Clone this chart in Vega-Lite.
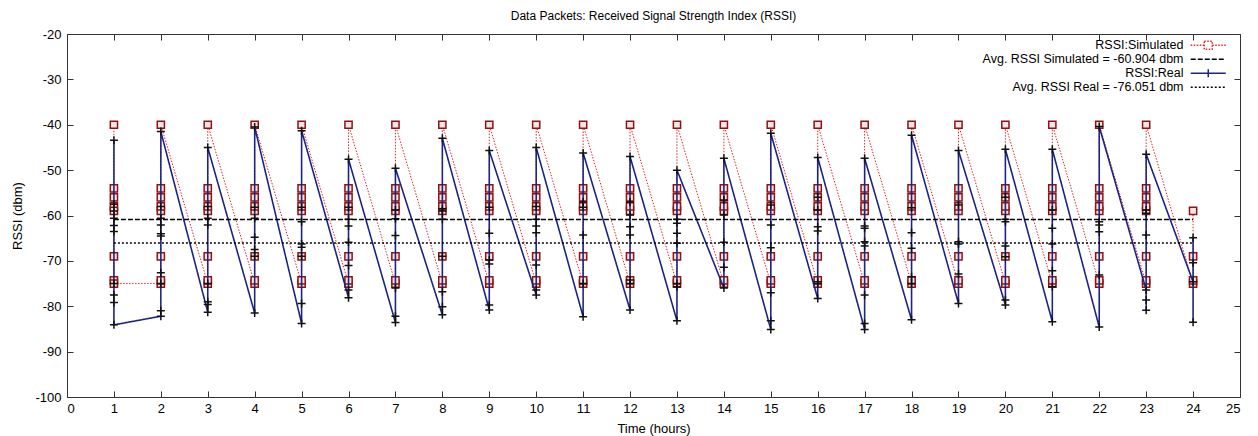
{
  "$schema": "https://vega.github.io/schema/vega-lite/v6.json",
  "width": 1173,
  "height": 363,
  "autosize": {"type": "none"},
  "padding": {"left": 67, "top": 34, "right": 18, "bottom": 39},
  "title": {
    "text": "Data Packets: Received Signal Strength Index (RSSI)",
    "fontSize": 12,
    "fontWeight": "normal",
    "font": "Liberation Sans",
    "color": "#000000",
    "offset": 5
  },
  "config": {
    "font": "Liberation Sans",
    "view": {"stroke": "#333333", "strokeWidth": 1},
    "axis": {
      "grid": false,
      "domain": false,
      "tickColor": "#333333",
      "tickWidth": 1,
      "labelColor": "#000000",
      "labelFontSize": 13,
      "titleFontSize": 13,
      "titleFontWeight": "normal",
      "titleColor": "#000000"
    },
    "legend": {
      "padding": 0,
      "labelFontSize": 12.5,
      "labelColor": "#000000",
      "labelAlign": "right",
      "labelOffset": -31,
      "labelLimit": 400,
      "symbolType": "stroke",
      "symbolSize": 100,
      "symbolStrokeWidth": 1.5,
      "rowPadding": 0
    }
  },
  "datasets": {
    "sim": [
      {"hour": 1, "seq": 1, "rssi": -40}, {"hour": 1, "seq": 2, "rssi": -54}, {"hour": 1, "seq": 3, "rssi": -56}, {"hour": 1, "seq": 4, "rssi": -58}, {"hour": 1, "seq": 5, "rssi": -59}, {"hour": 1, "seq": 6, "rssi": -69}, {"hour": 1, "seq": 7, "rssi": -74.3}, {"hour": 1, "seq": 8, "rssi": -75},
      {"hour": 2, "seq": 9, "rssi": -75}, {"hour": 2, "seq": 10, "rssi": -74.3}, {"hour": 2, "seq": 11, "rssi": -69}, {"hour": 2, "seq": 12, "rssi": -59}, {"hour": 2, "seq": 13, "rssi": -58}, {"hour": 2, "seq": 14, "rssi": -56}, {"hour": 2, "seq": 15, "rssi": -54}, {"hour": 2, "seq": 16, "rssi": -40},
      {"hour": 3, "seq": 17, "rssi": -75}, {"hour": 3, "seq": 18, "rssi": -74.3}, {"hour": 3, "seq": 19, "rssi": -69}, {"hour": 3, "seq": 20, "rssi": -59}, {"hour": 3, "seq": 21, "rssi": -58}, {"hour": 3, "seq": 22, "rssi": -56}, {"hour": 3, "seq": 23, "rssi": -54}, {"hour": 3, "seq": 24, "rssi": -40},
      {"hour": 4, "seq": 25, "rssi": -75}, {"hour": 4, "seq": 26, "rssi": -74.3}, {"hour": 4, "seq": 27, "rssi": -69}, {"hour": 4, "seq": 28, "rssi": -59}, {"hour": 4, "seq": 29, "rssi": -58}, {"hour": 4, "seq": 30, "rssi": -56}, {"hour": 4, "seq": 31, "rssi": -54}, {"hour": 4, "seq": 32, "rssi": -40},
      {"hour": 5, "seq": 33, "rssi": -75}, {"hour": 5, "seq": 34, "rssi": -74.3}, {"hour": 5, "seq": 35, "rssi": -69}, {"hour": 5, "seq": 36, "rssi": -59}, {"hour": 5, "seq": 37, "rssi": -58}, {"hour": 5, "seq": 38, "rssi": -56}, {"hour": 5, "seq": 39, "rssi": -54}, {"hour": 5, "seq": 40, "rssi": -40},
      {"hour": 6, "seq": 41, "rssi": -75}, {"hour": 6, "seq": 42, "rssi": -74.3}, {"hour": 6, "seq": 43, "rssi": -69}, {"hour": 6, "seq": 44, "rssi": -59}, {"hour": 6, "seq": 45, "rssi": -58}, {"hour": 6, "seq": 46, "rssi": -56}, {"hour": 6, "seq": 47, "rssi": -54}, {"hour": 6, "seq": 48, "rssi": -40},
      {"hour": 7, "seq": 49, "rssi": -75}, {"hour": 7, "seq": 50, "rssi": -74.3}, {"hour": 7, "seq": 51, "rssi": -69}, {"hour": 7, "seq": 52, "rssi": -59}, {"hour": 7, "seq": 53, "rssi": -58}, {"hour": 7, "seq": 54, "rssi": -56}, {"hour": 7, "seq": 55, "rssi": -54}, {"hour": 7, "seq": 56, "rssi": -40},
      {"hour": 8, "seq": 57, "rssi": -75}, {"hour": 8, "seq": 58, "rssi": -74.3}, {"hour": 8, "seq": 59, "rssi": -69}, {"hour": 8, "seq": 60, "rssi": -59}, {"hour": 8, "seq": 61, "rssi": -58}, {"hour": 8, "seq": 62, "rssi": -56}, {"hour": 8, "seq": 63, "rssi": -54}, {"hour": 8, "seq": 64, "rssi": -40},
      {"hour": 9, "seq": 65, "rssi": -75}, {"hour": 9, "seq": 66, "rssi": -74.3}, {"hour": 9, "seq": 67, "rssi": -69}, {"hour": 9, "seq": 68, "rssi": -59}, {"hour": 9, "seq": 69, "rssi": -58}, {"hour": 9, "seq": 70, "rssi": -56}, {"hour": 9, "seq": 71, "rssi": -54}, {"hour": 9, "seq": 72, "rssi": -40},
      {"hour": 10, "seq": 73, "rssi": -75}, {"hour": 10, "seq": 74, "rssi": -74.3}, {"hour": 10, "seq": 75, "rssi": -69}, {"hour": 10, "seq": 76, "rssi": -59}, {"hour": 10, "seq": 77, "rssi": -58}, {"hour": 10, "seq": 78, "rssi": -56}, {"hour": 10, "seq": 79, "rssi": -54}, {"hour": 10, "seq": 80, "rssi": -40},
      {"hour": 11, "seq": 81, "rssi": -75}, {"hour": 11, "seq": 82, "rssi": -74.3}, {"hour": 11, "seq": 83, "rssi": -69}, {"hour": 11, "seq": 84, "rssi": -59}, {"hour": 11, "seq": 85, "rssi": -58}, {"hour": 11, "seq": 86, "rssi": -56}, {"hour": 11, "seq": 87, "rssi": -54}, {"hour": 11, "seq": 88, "rssi": -40},
      {"hour": 12, "seq": 89, "rssi": -75}, {"hour": 12, "seq": 90, "rssi": -74.3}, {"hour": 12, "seq": 91, "rssi": -69}, {"hour": 12, "seq": 92, "rssi": -59}, {"hour": 12, "seq": 93, "rssi": -58}, {"hour": 12, "seq": 94, "rssi": -56}, {"hour": 12, "seq": 95, "rssi": -54}, {"hour": 12, "seq": 96, "rssi": -40},
      {"hour": 13, "seq": 97, "rssi": -75}, {"hour": 13, "seq": 98, "rssi": -74.3}, {"hour": 13, "seq": 99, "rssi": -69}, {"hour": 13, "seq": 100, "rssi": -59}, {"hour": 13, "seq": 101, "rssi": -58}, {"hour": 13, "seq": 102, "rssi": -56}, {"hour": 13, "seq": 103, "rssi": -54}, {"hour": 13, "seq": 104, "rssi": -40},
      {"hour": 14, "seq": 105, "rssi": -75}, {"hour": 14, "seq": 106, "rssi": -74.3}, {"hour": 14, "seq": 107, "rssi": -69}, {"hour": 14, "seq": 108, "rssi": -59}, {"hour": 14, "seq": 109, "rssi": -58}, {"hour": 14, "seq": 110, "rssi": -56}, {"hour": 14, "seq": 111, "rssi": -54}, {"hour": 14, "seq": 112, "rssi": -40},
      {"hour": 15, "seq": 113, "rssi": -75}, {"hour": 15, "seq": 114, "rssi": -74.3}, {"hour": 15, "seq": 115, "rssi": -69}, {"hour": 15, "seq": 116, "rssi": -59}, {"hour": 15, "seq": 117, "rssi": -58}, {"hour": 15, "seq": 118, "rssi": -56}, {"hour": 15, "seq": 119, "rssi": -54}, {"hour": 15, "seq": 120, "rssi": -40},
      {"hour": 16, "seq": 121, "rssi": -75}, {"hour": 16, "seq": 122, "rssi": -74.3}, {"hour": 16, "seq": 123, "rssi": -69}, {"hour": 16, "seq": 124, "rssi": -59}, {"hour": 16, "seq": 125, "rssi": -58}, {"hour": 16, "seq": 126, "rssi": -56}, {"hour": 16, "seq": 127, "rssi": -54}, {"hour": 16, "seq": 128, "rssi": -40},
      {"hour": 17, "seq": 129, "rssi": -75}, {"hour": 17, "seq": 130, "rssi": -74.3}, {"hour": 17, "seq": 131, "rssi": -69}, {"hour": 17, "seq": 132, "rssi": -59}, {"hour": 17, "seq": 133, "rssi": -58}, {"hour": 17, "seq": 134, "rssi": -56}, {"hour": 17, "seq": 135, "rssi": -54}, {"hour": 17, "seq": 136, "rssi": -40},
      {"hour": 18, "seq": 137, "rssi": -75}, {"hour": 18, "seq": 138, "rssi": -74.3}, {"hour": 18, "seq": 139, "rssi": -69}, {"hour": 18, "seq": 140, "rssi": -59}, {"hour": 18, "seq": 141, "rssi": -58}, {"hour": 18, "seq": 142, "rssi": -56}, {"hour": 18, "seq": 143, "rssi": -54}, {"hour": 18, "seq": 144, "rssi": -40},
      {"hour": 19, "seq": 145, "rssi": -75}, {"hour": 19, "seq": 146, "rssi": -74.3}, {"hour": 19, "seq": 147, "rssi": -69}, {"hour": 19, "seq": 148, "rssi": -59}, {"hour": 19, "seq": 149, "rssi": -58}, {"hour": 19, "seq": 150, "rssi": -56}, {"hour": 19, "seq": 151, "rssi": -54}, {"hour": 19, "seq": 152, "rssi": -40},
      {"hour": 20, "seq": 153, "rssi": -75}, {"hour": 20, "seq": 154, "rssi": -74.3}, {"hour": 20, "seq": 155, "rssi": -69}, {"hour": 20, "seq": 156, "rssi": -59}, {"hour": 20, "seq": 157, "rssi": -58}, {"hour": 20, "seq": 158, "rssi": -56}, {"hour": 20, "seq": 159, "rssi": -54}, {"hour": 20, "seq": 160, "rssi": -40},
      {"hour": 21, "seq": 161, "rssi": -75}, {"hour": 21, "seq": 162, "rssi": -74.3}, {"hour": 21, "seq": 163, "rssi": -69}, {"hour": 21, "seq": 164, "rssi": -59}, {"hour": 21, "seq": 165, "rssi": -58}, {"hour": 21, "seq": 166, "rssi": -56}, {"hour": 21, "seq": 167, "rssi": -54}, {"hour": 21, "seq": 168, "rssi": -40},
      {"hour": 22, "seq": 169, "rssi": -75}, {"hour": 22, "seq": 170, "rssi": -74.3}, {"hour": 22, "seq": 171, "rssi": -69}, {"hour": 22, "seq": 172, "rssi": -59}, {"hour": 22, "seq": 173, "rssi": -58}, {"hour": 22, "seq": 174, "rssi": -56}, {"hour": 22, "seq": 175, "rssi": -54}, {"hour": 22, "seq": 176, "rssi": -40},
      {"hour": 23, "seq": 177, "rssi": -75}, {"hour": 23, "seq": 178, "rssi": -74.3}, {"hour": 23, "seq": 179, "rssi": -69}, {"hour": 23, "seq": 180, "rssi": -59}, {"hour": 23, "seq": 181, "rssi": -58}, {"hour": 23, "seq": 182, "rssi": -56}, {"hour": 23, "seq": 183, "rssi": -54}, {"hour": 23, "seq": 184, "rssi": -40},
      {"hour": 24, "seq": 185, "rssi": -75}, {"hour": 24, "seq": 186, "rssi": -74.3}, {"hour": 24, "seq": 187, "rssi": -69}, {"hour": 24, "seq": 188, "rssi": -59}
    ],
    "real": [
      {"hour": 1, "seq": 1, "rssi": -43.4}, {"hour": 1, "seq": 2, "rssi": -57.5}, {"hour": 1, "seq": 3, "rssi": -59}, {"hour": 1, "seq": 4, "rssi": -60.6}, {"hour": 1, "seq": 5, "rssi": -62.2}, {"hour": 1, "seq": 6, "rssi": -63.5}, {"hour": 1, "seq": 7, "rssi": -75}, {"hour": 1, "seq": 8, "rssi": -77.5}, {"hour": 1, "seq": 9, "rssi": -79.2}, {"hour": 1, "seq": 10, "rssi": -84.1},
      {"hour": 2, "seq": 11, "rssi": -82.2}, {"hour": 2, "seq": 12, "rssi": -81}, {"hour": 2, "seq": 13, "rssi": -75}, {"hour": 2, "seq": 14, "rssi": -72.6}, {"hour": 2, "seq": 15, "rssi": -64.5}, {"hour": 2, "seq": 16, "rssi": -64}, {"hour": 2, "seq": 17, "rssi": -62.1}, {"hour": 2, "seq": 18, "rssi": -60.6}, {"hour": 2, "seq": 19, "rssi": -58}, {"hour": 2, "seq": 20, "rssi": -41.5},
      {"hour": 3, "seq": 21, "rssi": -81.3}, {"hour": 3, "seq": 22, "rssi": -79.6}, {"hour": 3, "seq": 23, "rssi": -79}, {"hour": 3, "seq": 24, "rssi": -75}, {"hour": 3, "seq": 25, "rssi": -62.1}, {"hour": 3, "seq": 26, "rssi": -60.6}, {"hour": 3, "seq": 27, "rssi": -58}, {"hour": 3, "seq": 28, "rssi": -45},
      {"hour": 4, "seq": 29, "rssi": -81.5}, {"hour": 4, "seq": 30, "rssi": -69}, {"hour": 4, "seq": 31, "rssi": -67.5}, {"hour": 4, "seq": 32, "rssi": -64.8}, {"hour": 4, "seq": 33, "rssi": -60.6}, {"hour": 4, "seq": 34, "rssi": -58.2}, {"hour": 4, "seq": 35, "rssi": -40.5},
      {"hour": 5, "seq": 36, "rssi": -83.8}, {"hour": 5, "seq": 37, "rssi": -79.4}, {"hour": 5, "seq": 38, "rssi": -69}, {"hour": 5, "seq": 39, "rssi": -67}, {"hour": 5, "seq": 40, "rssi": -66.3}, {"hour": 5, "seq": 41, "rssi": -61.4}, {"hour": 5, "seq": 42, "rssi": -58.2}, {"hour": 5, "seq": 43, "rssi": -41.3},
      {"hour": 6, "seq": 44, "rssi": -78.1}, {"hour": 6, "seq": 45, "rssi": -76.4}, {"hour": 6, "seq": 46, "rssi": -71}, {"hour": 6, "seq": 47, "rssi": -65.9}, {"hour": 6, "seq": 48, "rssi": -62.3}, {"hour": 6, "seq": 49, "rssi": -60.8}, {"hour": 6, "seq": 50, "rssi": -58.2}, {"hour": 6, "seq": 51, "rssi": -47.6},
      {"hour": 7, "seq": 52, "rssi": -83.6}, {"hour": 7, "seq": 53, "rssi": -82.2}, {"hour": 7, "seq": 54, "rssi": -76}, {"hour": 7, "seq": 55, "rssi": -64.4}, {"hour": 7, "seq": 56, "rssi": -60.7}, {"hour": 7, "seq": 57, "rssi": -58.8}, {"hour": 7, "seq": 58, "rssi": -49.6},
      {"hour": 8, "seq": 59, "rssi": -81.9}, {"hour": 8, "seq": 60, "rssi": -80.1}, {"hour": 8, "seq": 61, "rssi": -76.8}, {"hour": 8, "seq": 62, "rssi": -69}, {"hour": 8, "seq": 63, "rssi": -60.8}, {"hour": 8, "seq": 64, "rssi": -59}, {"hour": 8, "seq": 65, "rssi": -58.5}, {"hour": 8, "seq": 66, "rssi": -43},
      {"hour": 9, "seq": 67, "rssi": -80.8}, {"hour": 9, "seq": 68, "rssi": -79.7}, {"hour": 9, "seq": 69, "rssi": -70.7}, {"hour": 9, "seq": 70, "rssi": -69.8}, {"hour": 9, "seq": 71, "rssi": -63.9}, {"hour": 9, "seq": 72, "rssi": -58.2}, {"hour": 9, "seq": 73, "rssi": -45.7},
      {"hour": 10, "seq": 74, "rssi": -77.5}, {"hour": 10, "seq": 75, "rssi": -76.4}, {"hour": 10, "seq": 76, "rssi": -70.9}, {"hour": 10, "seq": 77, "rssi": -63.8}, {"hour": 10, "seq": 78, "rssi": -62.3}, {"hour": 10, "seq": 79, "rssi": -60.8}, {"hour": 10, "seq": 80, "rssi": -58}, {"hour": 10, "seq": 81, "rssi": -45},
      {"hour": 11, "seq": 82, "rssi": -82.3}, {"hour": 11, "seq": 83, "rssi": -75}, {"hour": 11, "seq": 84, "rssi": -64.3}, {"hour": 11, "seq": 85, "rssi": -58.2}, {"hour": 11, "seq": 86, "rssi": -57}, {"hour": 11, "seq": 87, "rssi": -46.2},
      {"hour": 12, "seq": 88, "rssi": -80.8}, {"hour": 12, "seq": 89, "rssi": -75}, {"hour": 12, "seq": 90, "rssi": -74.2}, {"hour": 12, "seq": 91, "rssi": -64.3}, {"hour": 12, "seq": 92, "rssi": -62.5}, {"hour": 12, "seq": 93, "rssi": -59.9}, {"hour": 12, "seq": 94, "rssi": -57}, {"hour": 12, "seq": 95, "rssi": -47},
      {"hour": 13, "seq": 96, "rssi": -83.2}, {"hour": 13, "seq": 97, "rssi": -75.7}, {"hour": 13, "seq": 98, "rssi": -75}, {"hour": 13, "seq": 99, "rssi": -66.1}, {"hour": 13, "seq": 100, "rssi": -63.9}, {"hour": 13, "seq": 101, "rssi": -61.7}, {"hour": 13, "seq": 102, "rssi": -60.8}, {"hour": 13, "seq": 103, "rssi": -50},
      {"hour": 14, "seq": 104, "rssi": -76}, {"hour": 14, "seq": 105, "rssi": -71.4}, {"hour": 14, "seq": 106, "rssi": -65.9}, {"hour": 14, "seq": 107, "rssi": -59.9}, {"hour": 14, "seq": 108, "rssi": -56.6}, {"hour": 14, "seq": 109, "rssi": -47.4},
      {"hour": 15, "seq": 110, "rssi": -85.1}, {"hour": 15, "seq": 111, "rssi": -83.2}, {"hour": 15, "seq": 112, "rssi": -77}, {"hour": 15, "seq": 113, "rssi": -67.1}, {"hour": 15, "seq": 114, "rssi": -62.1}, {"hour": 15, "seq": 115, "rssi": -57.7}, {"hour": 15, "seq": 116, "rssi": -41.9},
      {"hour": 16, "seq": 117, "rssi": -78.3}, {"hour": 16, "seq": 118, "rssi": -75}, {"hour": 16, "seq": 119, "rssi": -74.6}, {"hour": 16, "seq": 120, "rssi": -63.4}, {"hour": 16, "seq": 121, "rssi": -62.5}, {"hour": 16, "seq": 122, "rssi": -58.8}, {"hour": 16, "seq": 123, "rssi": -56}, {"hour": 16, "seq": 124, "rssi": -47.2},
      {"hour": 17, "seq": 125, "rssi": -85.1}, {"hour": 17, "seq": 126, "rssi": -83.8}, {"hour": 17, "seq": 127, "rssi": -77.5}, {"hour": 17, "seq": 128, "rssi": -66.7}, {"hour": 17, "seq": 129, "rssi": -65.8}, {"hour": 17, "seq": 130, "rssi": -62.8}, {"hour": 17, "seq": 131, "rssi": -62.3}, {"hour": 17, "seq": 132, "rssi": -47.4},
      {"hour": 18, "seq": 133, "rssi": -83}, {"hour": 18, "seq": 134, "rssi": -75}, {"hour": 18, "seq": 135, "rssi": -73.5}, {"hour": 18, "seq": 136, "rssi": -67.2}, {"hour": 18, "seq": 137, "rssi": -63.8}, {"hour": 18, "seq": 138, "rssi": -58.3}, {"hour": 18, "seq": 139, "rssi": -42.3},
      {"hour": 19, "seq": 140, "rssi": -79.4}, {"hour": 19, "seq": 141, "rssi": -72.9}, {"hour": 19, "seq": 142, "rssi": -66.3}, {"hour": 19, "seq": 143, "rssi": -65.8}, {"hour": 19, "seq": 144, "rssi": -57.7}, {"hour": 19, "seq": 145, "rssi": -45.7},
      {"hour": 20, "seq": 146, "rssi": -79.7}, {"hour": 20, "seq": 147, "rssi": -78.6}, {"hour": 20, "seq": 148, "rssi": -69.1}, {"hour": 20, "seq": 149, "rssi": -66.7}, {"hour": 20, "seq": 150, "rssi": -61.4}, {"hour": 20, "seq": 151, "rssi": -60.8}, {"hour": 20, "seq": 152, "rssi": -56}, {"hour": 20, "seq": 153, "rssi": -45.4},
      {"hour": 21, "seq": 154, "rssi": -83.4}, {"hour": 21, "seq": 155, "rssi": -75.7}, {"hour": 21, "seq": 156, "rssi": -72.2}, {"hour": 21, "seq": 157, "rssi": -66.3}, {"hour": 21, "seq": 158, "rssi": -62.8}, {"hour": 21, "seq": 159, "rssi": -58.8}, {"hour": 21, "seq": 160, "rssi": -45.4},
      {"hour": 22, "seq": 161, "rssi": -84.6}, {"hour": 22, "seq": 162, "rssi": -73.1}, {"hour": 22, "seq": 163, "rssi": -63.6}, {"hour": 22, "seq": 164, "rssi": -62.1}, {"hour": 22, "seq": 165, "rssi": -61.4}, {"hour": 22, "seq": 166, "rssi": -40.4},
      {"hour": 23, "seq": 167, "rssi": -76.4}, {"hour": 23, "seq": 168, "rssi": -80.9}, {"hour": 23, "seq": 169, "rssi": -78.6}, {"hour": 23, "seq": 170, "rssi": -64.3}, {"hour": 23, "seq": 171, "rssi": -59.5}, {"hour": 23, "seq": 172, "rssi": -58.8}, {"hour": 23, "seq": 173, "rssi": -46.5},
      {"hour": 24, "seq": 174, "rssi": -74.6}, {"hour": 24, "seq": 175, "rssi": -83.5}, {"hour": 24, "seq": 176, "rssi": -70.4}, {"hour": 24, "seq": 177, "rssi": -64.9}
    ],
    "avg": [
      {"series": "Avg. RSSI Simulated = -60.904 dbm", "rssi": -60.904, "start": 1, "end": 24},
      {"series": "Avg. RSSI Real = -76.051 dbm", "rssi": -66.051, "start": 1, "end": 24}
    ]
  },
  "resolve": {"axis": {"x": "independent", "y": "independent"}},
  "layer": [
    {
      "data": {"name": "sim"},
      "mark": {"type": "line", "strokeWidth": 1},
      "encoding": {
        "x": {
          "field": "hour",
          "type": "quantitative",
          "scale": {"domain": [0, 25], "nice": false, "zero": false},
          "axis": {
            "orient": "bottom",
            "values": [0, 1, 2, 3, 4, 5, 6, 7, 8, 9, 10, 11, 12, 13, 14, 15, 16, 17, 18, 19, 20, 21, 22, 23, 24, 25],
            "tickSize": -6,
            "labelPadding": 11,
            "title": "Time (hours)",
            "titlePadding": 7
          }
        },
        "y": {
          "field": "rssi",
          "type": "quantitative",
          "scale": {"domain": [-100, -20], "nice": false, "zero": false},
          "axis": {
            "orient": "left",
            "values": [-100, -90, -80, -70, -60, -50, -40, -30, -20],
            "labelExpr": "'' + datum.value",
            "tickSize": -6,
            "labelPadding": 12,
            "title": "RSSI (dbm)",
            "titlePadding": 10
          }
        },
        "order": {"field": "seq"},
        "color": {"datum": "RSSI:Simulated", "type": "nominal"},
        "strokeDash": {"datum": "RSSI:Simulated", "type": "nominal"}
      }
    },
    {
      "data": {"name": "sim"},
      "mark": {"type": "point", "shape": "square", "size": 52, "filled": true, "fill": "#f7e4e4", "stroke": "#8e1414", "strokeWidth": 1.5, "opacity": 1},
      "encoding": {
        "x": {"field": "hour", "type": "quantitative", "axis": null},
        "y": {"field": "rssi", "type": "quantitative", "axis": null}
      }
    },
    {
      "data": {"name": "real"},
      "mark": {"type": "line", "strokeWidth": 1.6},
      "encoding": {
        "x": {
          "field": "hour",
          "type": "quantitative",
          "axis": {
            "orient": "top",
            "values": [0, 1, 2, 3, 4, 5, 6, 7, 8, 9, 10, 11, 12, 13, 14, 15, 16, 17, 18, 19, 20, 21, 22, 23, 24, 25],
            "tickSize": -6,
            "labels": false,
            "title": null
          }
        },
        "y": {
          "field": "rssi",
          "type": "quantitative",
          "axis": {
            "orient": "right",
            "values": [-100, -90, -80, -70, -60, -50, -40, -30, -20],
            "tickSize": -6,
            "labels": false,
            "title": null
          }
        },
        "order": {"field": "seq"},
        "color": {"datum": "RSSI:Real", "type": "nominal"},
        "strokeDash": {"datum": "RSSI:Real", "type": "nominal"}
      }
    },
    {
      "data": {"name": "real"},
      "mark": {"type": "point", "shape": "M-1,0H1M0,-1V1", "size": 64, "filled": false, "stroke": "#111111", "strokeWidth": 1.5, "opacity": 1},
      "encoding": {
        "x": {"field": "hour", "type": "quantitative", "axis": null},
        "y": {"field": "rssi", "type": "quantitative", "axis": null}
      }
    },
    {
      "data": {"name": "avg"},
      "mark": {"type": "rule", "strokeWidth": 1.5},
      "encoding": {
        "x": {"field": "start", "type": "quantitative", "axis": null},
        "x2": {"field": "end"},
        "y": {"field": "rssi", "type": "quantitative", "axis": null},
        "color": {
          "field": "series",
          "type": "nominal",
          "scale": {
            "domain": ["RSSI:Simulated", "Avg. RSSI Simulated = -60.904 dbm", "RSSI:Real", "Avg. RSSI Real = -76.051 dbm"],
            "range": ["#d62a2a", "#000000", "#1c2580", "#000000"]
          },
          "legend": {
            "title": null,
            "orient": "none",
            "legendX": 1135,
            "legendY": 5,
            "encode": {
              "symbols": {
                "update": {
                  "shape": {"signal": "datum.value === 'RSSI:Simulated' ? 'M-3.5,0H-0.8M0.8,0H3.5M-0.8,-0.8H0.8V0.8H-0.8Z' : datum.value === 'RSSI:Real' ? 'M-3.5,0H3.5M0,-0.8V0.8' : 'M-3.5,0H3.5'"}
                }
              }
            }
          }
        },
        "strokeDash": {
          "field": "series",
          "type": "nominal",
          "scale": {
            "domain": ["RSSI:Simulated", "Avg. RSSI Simulated = -60.904 dbm", "RSSI:Real", "Avg. RSSI Real = -76.051 dbm"],
            "range": [[1.5, 1.5], [5, 2], [1, 0], [2, 2]]
          },
          "legend": {"title": null, "orient": "none", "legendX": 1135, "legendY": 5}
        }
      }
    }
  ]
}
